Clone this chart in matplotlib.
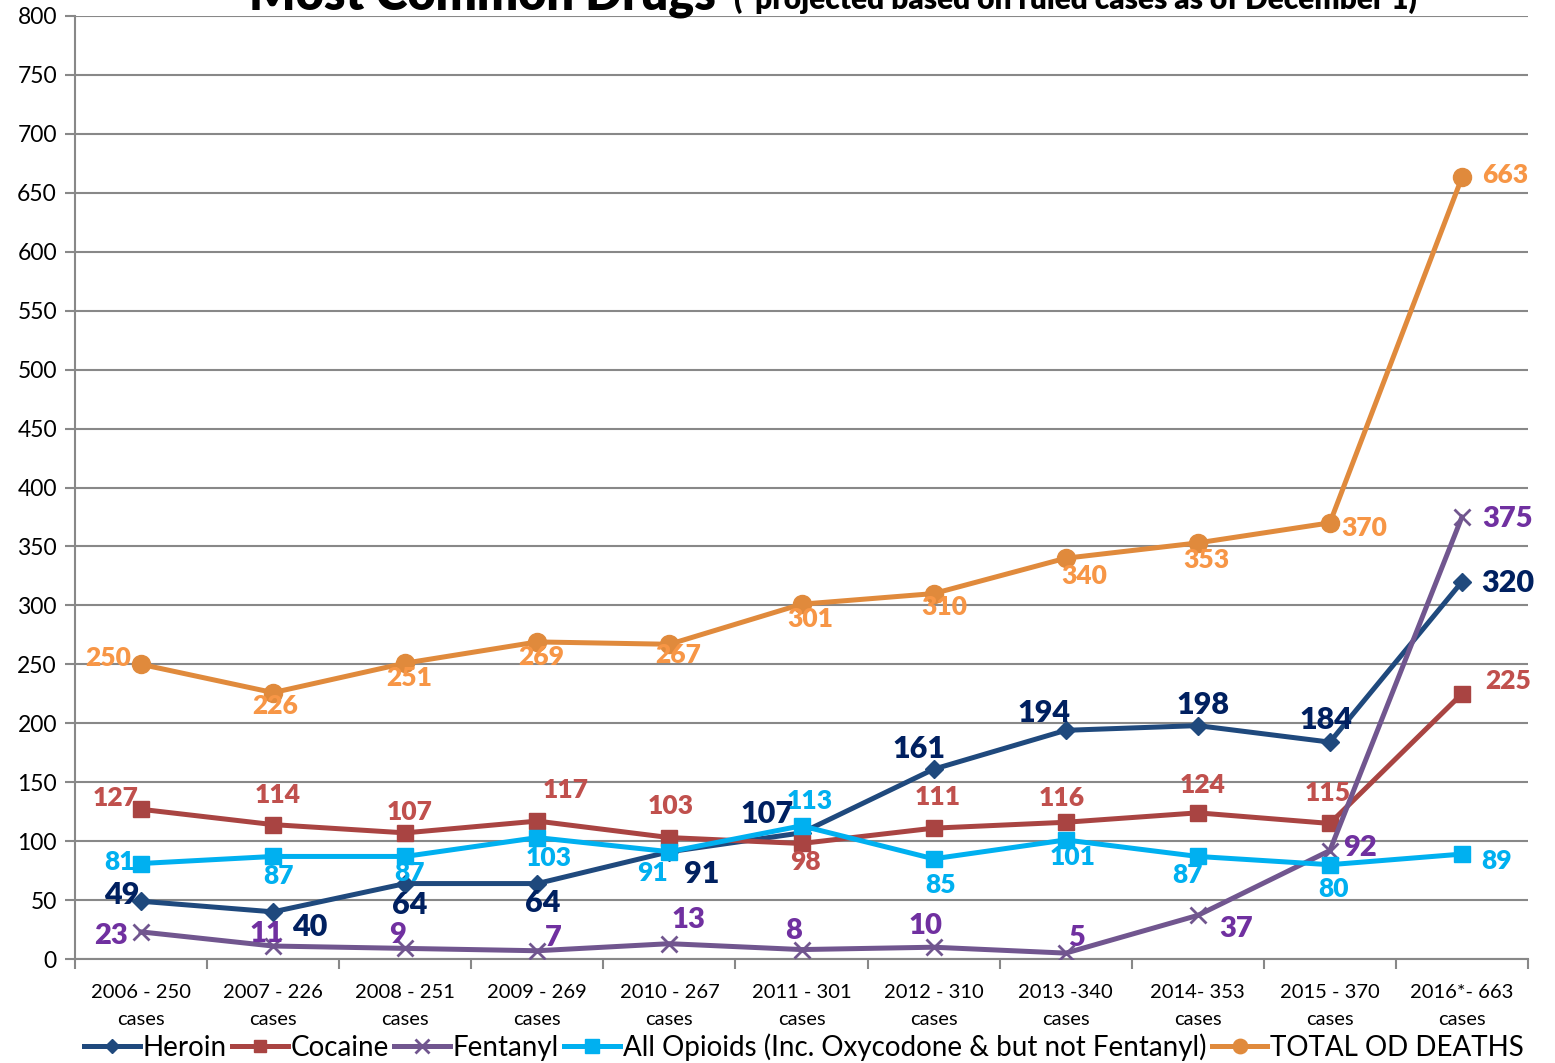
import matplotlib
matplotlib.use('Agg')
import matplotlib.pyplot as plt
import numpy as np

plt.rcParams['font.family'] = ['Lato', 'DejaVu Sans']

categories = ['2006 - 250\ncases', '2007 - 226\ncases', '2008 - 251\ncases',
              '2009 - 269\ncases', '2010 - 267\ncases', '2011 - 301\ncases',
              '2012 - 310\ncases', '2013 -340\ncases', '2014- 353\ncases',
              '2015 - 370\ncases', '2016*- 663\ncases']
heroin = [49, 40, 64, 64, 91, 107, 161, 194, 198, 184, 320]
cocaine = [127, 114, 107, 117, 103, 98, 111, 116, 124, 115, 225]
fentanyl = [23, 11, 9, 7, 13, 8, 10, 5, 37, 92, 375]
opioids = [81, 87, 87, 103, 91, 113, 85, 101, 87, 80, 89]
total = [250, 226, 251, 269, 267, 301, 310, 340, 353, 370, 663]

# label offsets in pixels (dx, dy downward), like excel's auto placement
off_total = [(-33, -6), (2, 13), (4, 15), (4, 15), (9, 11), (9, 15), (11, 13),
             (19, 18), (9, 17), (34, 5), (43, -2)]
off_heroin = [(-19, -6), (37, 15), (4, 21), (5, 19), (32, 22), (-34, -19),
              (-15, -20), (-22, -17), (5, -21), (-4, -22), (46, 1)]
off_cocaine = [(-25, -11), (5, -30), (4, -21), (28, -31), (1, -32), (4, 19),
               (4, -31), (-4, -24), (5, -28), (-2, -30), (46, -13)]
off_fentanyl = [(-30, 4), (-7, -12), (-8, -13), (16, -13), (19, -24), (-8, -19),
                (-8, -21), (11, -15), (38, 14), (30, -3), (46, 2)]
off_opioids = [(-21, -2), (5, 20), (4, 17), (11, 20), (-17, 21), (8, -25),
               (7, 26), (7, 17), (-10, 19), (4, 24), (35, 7)]

series = [
    # name, values, line colour, label colour, marker, msize, label size, offsets
    ('Heroin', heroin, '#1F497D', '#002060', 'D', 9, 22, off_heroin),
    ('Cocaine', cocaine, '#A94442', '#C0504D', 's', 11, 19, off_cocaine),
    ('Fentanyl', fentanyl, '#71568F', '#7030A0', 'x', 12, 21, off_fentanyl),
    ('All Opioids (Inc. Oxycodone & but not Fentanyl)', opioids, '#00B0F0', '#00B0F0', 's', 12, 19, off_opioids),
    ('TOTAL OD DEATHS', total, '#E08A3C', '#F79646', 'o', 13, 19, off_total),
]

fig = plt.figure(figsize=(15.55, 10.63), dpi=100)
ax = fig.add_axes([75 / 1555, 1 - 959 / 1063, (1528 - 75) / 1555, (959 - 16) / 1063])

x = np.arange(len(categories))
order = [4, 0, 1, 2, 3]
handles = {}
for i in order:
    name, vals, lc, tc, mk, ms, fs, offs = series[i]
    mew = 2 if mk == 'x' else 1
    h, = ax.plot(x, vals, color=lc, lw=3.6, marker=mk, markersize=ms,
                 markeredgewidth=mew, label=name, zorder=3 + (i == 3))
    handles[i] = h
    for xi, v, (dx, dy) in zip(x, vals, offs):
        ax.annotate(str(v), (xi, v), xytext=(dx, -dy), textcoords='offset pixels',
                    ha='center', va='center', fontsize=fs, fontweight='heavy',
                    color=tc, zorder=6)

ax.set_xlim(-0.5, len(categories) - 0.5)
ax.set_ylim(0, 800)
ax.set_yticks(np.arange(0, 801, 50))
ax.yaxis.grid(True, color='#888888', lw=1.5)
ax.set_axisbelow(True)
ax.set_xticks(x)
ax.set_xticklabels(categories, fontsize=14.5, linespacing=1.7)
ax.set_xticks(np.arange(-0.5, len(categories), 1), minor=True)
ax.tick_params(axis='x', which='major', length=0, pad=18)
ax.tick_params(axis='x', which='minor', length=7, width=1.5, color='#888888')
ax.tick_params(axis='y', length=7, width=1.5, color='#888888', labelsize=16.5, pad=6)
for s in ['top', 'right']:
    ax.spines[s].set_visible(False)
for s in ['left', 'bottom']:
    ax.spines[s].set_color('#888888')
    ax.spines[s].set_linewidth(1.5)

fig.text(0.16, 1 - 9 / 1063, 'Most Common Drugs', fontsize=35, fontweight='heavy',
         va='baseline', ha='left')
fig.text(0.472, 1 - 9 / 1063, '(*projected based on ruled cases as of December 1)',
         fontsize=21.5, fontweight='heavy', va='baseline', ha='left')

leg = fig.legend([handles[i] for i in range(5)], [s[0] for s in series],
                 loc='center', bbox_to_anchor=(0.517, 1 - 1047 / 1063), ncol=5,
                 frameon=False, fontsize=20, handlelength=2.0, handletextpad=0.1,
                 columnspacing=0.2, borderpad=0, markerscale=0.8)

fig.savefig('out.png', dpi=100)
